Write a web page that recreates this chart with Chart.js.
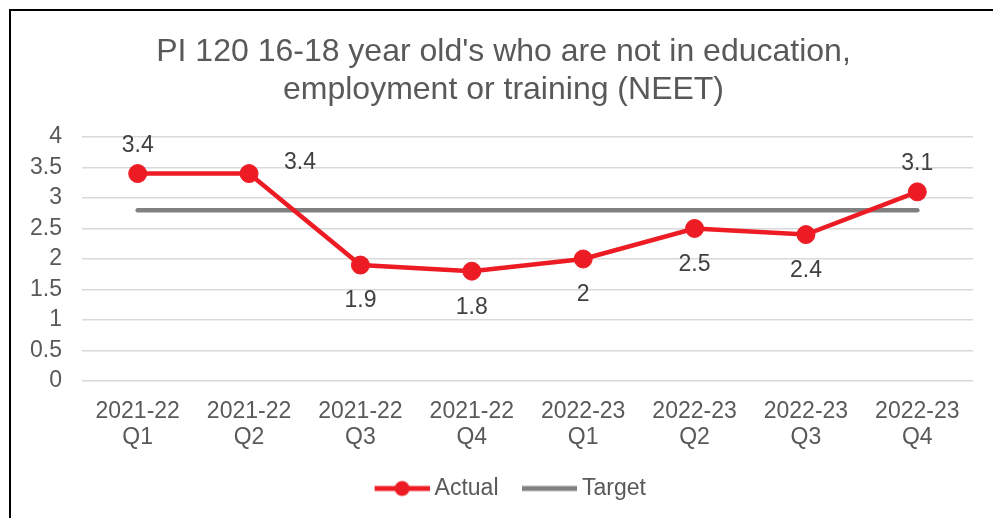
<!DOCTYPE html>
<html>
<head>
<meta charset="utf-8">
<script src="https://cdn.jsdelivr.net/npm/chart.js@4"></script>
<style>
  html, body { margin: 0; padding: 0; background: #fff; overflow: hidden; }
  #wrap { position: relative; width: 993px; height: 518px; }
  #frame { position: absolute; left: 9px; top: 9px; width: 1100px; height: 600px;
           border-left: 2px solid #000; border-top: 2px solid #000; pointer-events: none; }
</style>
</head>
<body>
<div id="wrap">
  <canvas id="neetChart" width="993" height="518"></canvas>
  <div id="frame"></div>
</div>
<script>
  /* ── Data ─────────────────────────────────────────────── */
  const categories = [
    ['2021-22', 'Q1'], ['2021-22', 'Q2'], ['2021-22', 'Q3'], ['2021-22', 'Q4'],
    ['2022-23', 'Q1'], ['2022-23', 'Q2'], ['2022-23', 'Q3'], ['2022-23', 'Q4']
  ];
  const actualValues = [3.4, 3.4, 1.9, 1.8, 2, 2.5, 2.4, 3.1];
  const targetValues = [2.8, 2.8, 2.8, 2.8, 2.8, 2.8, 2.8, 2.8];
  const yTicks       = [0, 0.5, 1, 1.5, 2, 2.5, 3, 3.5, 4];

  const RED  = '#ED1C24';
  const GREY = '#808080';
  const TEXT = '#595959';
  const FONT = "'Liberation Sans', Arial, sans-serif";

  Chart.defaults.font.family = FONT;
  Chart.defaults.color = TEXT;

  /* ── Legend icons (line with / without marker) ────────── */
  function legendIcon(color, marker) {
    const c = document.createElement('canvas');
    c.width = 75; c.height = 22;
    const g = c.getContext('2d');
    g.strokeStyle = color;
    g.lineWidth = 5;
    g.beginPath(); g.moveTo(20, 11); g.lineTo(75, 11); g.stroke();
    if (marker) {
      g.fillStyle = color;
      g.beginPath(); g.arc(47.5, 11, 7.5, 0, Math.PI * 2); g.fill();
    }
    return c;
  }

  /* ── Value labels, placed off the point elements ──────── */
  const valueLabels = {
    id: 'valueLabels',
    afterDatasetsDraw(chart, args, opts) {
      const meta = chart.getDatasetMeta(0);
      const ctx = chart.ctx;
      ctx.save();
      ctx.font = '23px ' + FONT;
      ctx.fillStyle = '#404040';
      ctx.textAlign = 'center';
      ctx.textBaseline = 'middle';
      meta.data.forEach((pt, i) => {
        const pos = opts.place[i];
        let x = pt.x, y = pt.y;
        if (pos === 'above') y -= 28;
        else if (pos === 'below') y += 36;
        else { x += 51; y -= 11; }
        ctx.fillText(String(actualValues[i]), x, y);
      });
      ctx.restore();
    }
  };

  new Chart(document.getElementById('neetChart'), {
    type: 'line',
    data: {
      labels: categories,
      datasets: [
        {
          label: 'Actual',
          data: actualValues,
          borderColor: RED,
          backgroundColor: RED,
          borderWidth: 4.5,
          pointRadius: 9,
          pointBorderWidth: 1,
          pointBackgroundColor: RED,
          pointBorderColor: RED,
          tension: 0
        },
        {
          label: 'Target',
          data: targetValues,
          borderColor: GREY,
          backgroundColor: GREY,
          borderWidth: 4.5,
          borderCapStyle: 'round',
          pointRadius: 0,
          tension: 0
        }
      ]
    },
    options: {
      responsive: false,
      animation: false,
      layout: { padding: { left: 34, right: 20, top: 0, bottom: 8 } },
      plugins: {
        title: {
          display: true,
          text: ["PI 120 16-18 year old's who are not in education,",
                 'employment or training (NEET)'],
          color: TEXT,
          font: { size: 32, weight: 'normal', lineHeight: 1.19 },
          padding: { top: 33, bottom: 27.8 }
        },
        legend: {
          position: 'bottom',
          labels: {
            color: TEXT,
            font: { size: 23 },
            usePointStyle: true,
            pointStyleWidth: 62,
            boxHeight: 18,
            padding: 10,
            generateLabels: () => [
              { text: 'Actual', pointStyle: legendIcon(RED, true), fontColor: TEXT,
                lineWidth: 0, datasetIndex: 0, hidden: false },
              { text: 'Target', pointStyle: legendIcon(GREY, false), fontColor: TEXT,
                lineWidth: 0, datasetIndex: 1, hidden: false }
            ]
          }
        },
        tooltip: { enabled: false },
        valueLabels: { place: ['above', 'right', 'below', 'below', 'below', 'below', 'below', 'above'] }
      },
      scales: {
        x: {
          offset: true,
          grid: { display: false, drawTicks: false },
          border: { display: false },
          ticks: { color: TEXT, font: { size: 23, lineHeight: 1.13 }, padding: 18, maxRotation: 0, autoSkip: false },
          afterFit: s => { s.height = 86; }
        },
        y: {
          min: 0,
          max: 4,
          afterBuildTicks: s => { s.ticks = yTicks.map(v => ({ value: v })); },
          grid: { color: '#d9d9d9', lineWidth: 1.5, drawTicks: false },
          border: { display: false },
          /* mirrored + far-aligned so the labels are not clipped to the narrow axis box */
          ticks: { color: TEXT, font: { size: 23, lineHeight: 1 }, autoSkip: false,
                   mirror: true, crossAlign: 'far', padding: -52,
                   callback: v => String(v) },
          afterFit: s => { s.width = 48; }
        }
      }
    },
    plugins: [valueLabels]
  });
</script>
</body>
</html>
